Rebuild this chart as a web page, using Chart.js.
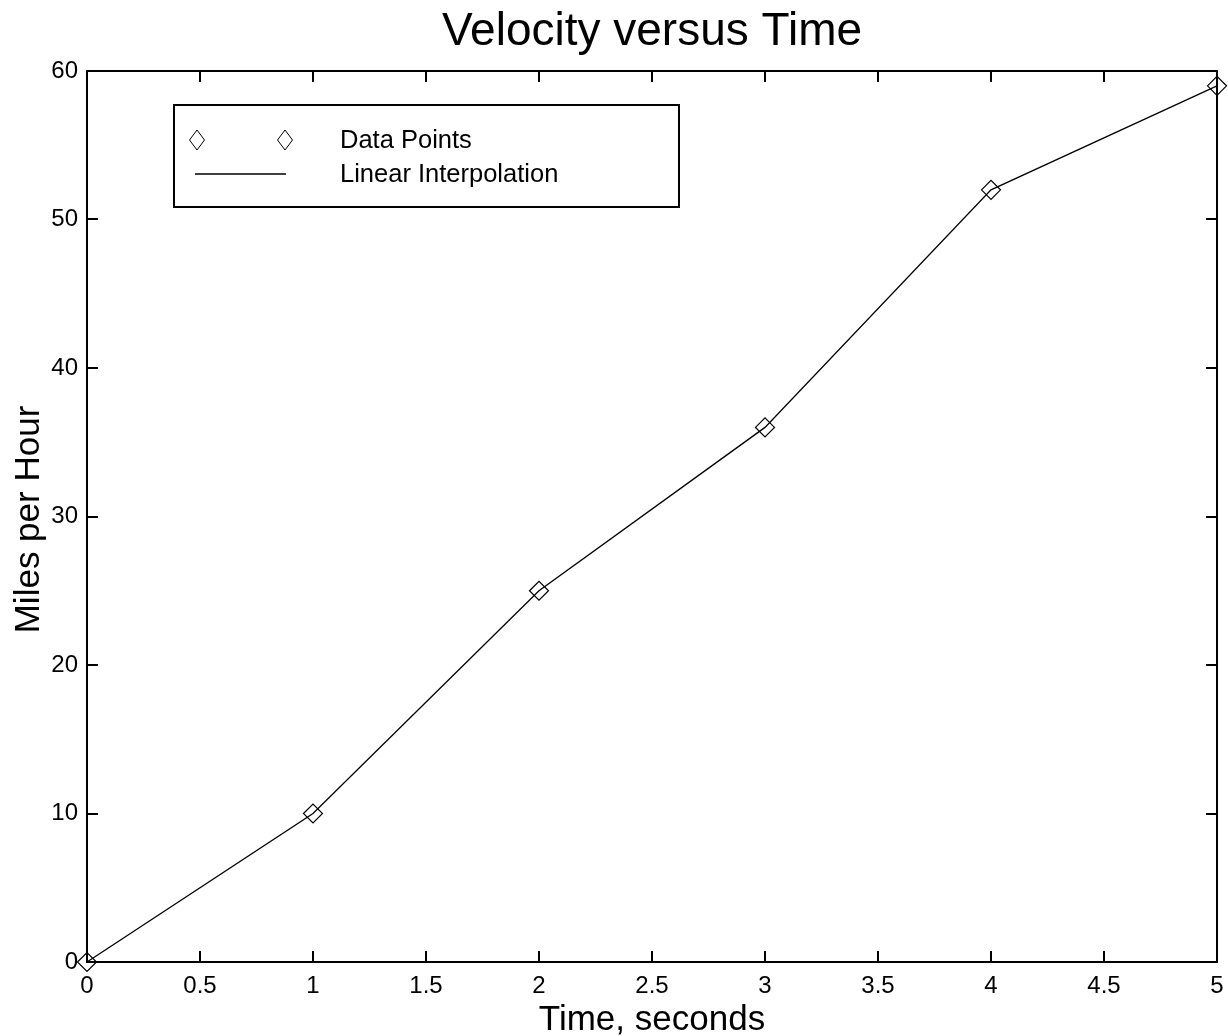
<!DOCTYPE html>
<html>
<head>
<meta charset="utf-8">
<script src="https://cdn.jsdelivr.net/npm/chart.js@4.4.0/dist/chart.umd.min.js"></script>
<style>
  html, body { margin: 0; padding: 0; background: #fff; }
  #wrap { width: 1228px; height: 1036px; }
</style>
</head>
<body>
<div id="wrap"><canvas id="velChart" width="1228" height="1036"></canvas></div>
<script>
var chartTitle = "Velocity versus Time";
var xAxisTitle = "Time, seconds";
var yAxisTitle = "Miles per Hour";
var timeSeconds = [0, 1, 2, 3, 4, 5];
var milesPerHour = [0, 10, 25, 36, 52, 59];
var legendLabels = ["Data Points", "Linear Interpolation"];

var FONT = "'Liberation Sans', Arial, Helvetica, sans-serif";

var points = timeSeconds.map(function (t, i) { return { x: t, y: milesPerHour[i] }; });

function diamond(c, x, y, rw, rh) {
    c.beginPath();
    c.moveTo(x, y - rh);
    c.lineTo(x + rw, y);
    c.lineTo(x, y + rh);
    c.lineTo(x - rw, y);
    c.closePath();
    c.stroke();
}

// frame, inward ticks, titles and legend box (matlab look)
var matlabFrame = {
    id: 'matlabFrame',
    beforeDatasetsDraw: function (chart) {
        var c = chart.ctx, a = chart.chartArea;
        var xs = chart.scales.x, ys = chart.scales.y;
        var len = 11;
        c.save();
        c.strokeStyle = '#000';
        c.lineWidth = 2;
        c.strokeRect(a.left, a.top, a.right - a.left, a.bottom - a.top);
        c.beginPath();
        xs.ticks.forEach(function (tk) {
            var px = Math.round(xs.getPixelForValue(tk.value));
            c.moveTo(px, a.bottom); c.lineTo(px, a.bottom - len);
            c.moveTo(px, a.top); c.lineTo(px, a.top + len);
        });
        ys.ticks.forEach(function (tk) {
            var py = Math.round(ys.getPixelForValue(tk.value));
            c.moveTo(a.left, py); c.lineTo(a.left + len, py);
            c.moveTo(a.right, py); c.lineTo(a.right - len, py);
        });
        c.stroke();

        var midX = (a.left + a.right) / 2;
        var midY = (a.top + a.bottom) / 2;
        c.fillStyle = '#000';
        c.textAlign = 'center';
        c.textBaseline = 'alphabetic';
        // chart title
        c.font = '46px ' + FONT;
        c.fillText(chartTitle, midX, 45);
        // axis titles
        c.font = '35px ' + FONT;
        c.fillText(xAxisTitle, midX, 1030);
        c.save();
        c.translate(39, midY + 3);
        c.rotate(-Math.PI / 2);
        c.fillText(yAxisTitle, 0, 0);
        c.restore();

        // legend
        c.fillStyle = '#fff';
        c.fillRect(174, 105, 505, 102);
        c.lineWidth = 2;
        c.strokeRect(174, 105, 505, 102);
        c.lineWidth = 1;
        diamond(c, 197, 140, 7.5, 10);
        diamond(c, 285, 140, 7.5, 10);
        c.lineWidth = 1.6;
        c.beginPath();
        c.moveTo(195, 174); c.lineTo(286, 174);
        c.stroke();
        c.fillStyle = '#000';
        c.font = '25.5px ' + FONT;
        c.textAlign = 'left';
        c.textBaseline = 'middle';
        c.fillText(legendLabels[0], 340, 141);
        c.fillText(legendLabels[1], 340, 175);
        c.restore();
    }
};

var myChart = new Chart(document.getElementById('velChart'), {
    type: 'scatter',
    data: {
        datasets: [{
            data: points,
            showLine: true,
            borderColor: '#000',
            borderWidth: 1.3,
            pointStyle: 'rectRot',
            pointRadius: 9.5,
            pointBorderWidth: 1.2,
            pointBorderColor: '#000',
            pointBackgroundColor: 'rgba(255,255,255,0)',
            tension: 0,
            clip: false
        }]
    },
    options: {
        responsive: false,
        animation: false,
        layout: { padding: { top: 71, right: 11, left: 0, bottom: 0 } },
        plugins: {
            legend: { display: false },
            title: { display: false },
            tooltip: { enabled: false }
        },
        scales: {
            x: {
                type: 'linear',
                min: 0,
                max: 5,
                border: { display: false },
                grid: { display: false, drawTicks: false },
                ticks: {
                    stepSize: 0.5,
                    color: '#000',
                    padding: 10,
                    maxRotation: 0,
                    autoSkip: false,
                    font: { family: FONT, size: 24 },
                    callback: function (v) { return String(Math.round(v * 10) / 10); }
                },
                afterFit: function (s) { s.height = 74; s.paddingLeft = 0; s.paddingRight = 0; }
            },
            y: {
                type: 'linear',
                min: 0,
                max: 60,
                border: { display: false },
                grid: { display: false, drawTicks: false },
                ticks: {
                    stepSize: 10,
                    color: '#000',
                    padding: 9,
                    font: { family: FONT, size: 24 }
                },
                afterFit: function (s) { s.width = 87; s.paddingTop = 0; s.paddingBottom = 0; }
            }
        }
    },
    plugins: [matlabFrame]
});
</script>
</body>
</html>
